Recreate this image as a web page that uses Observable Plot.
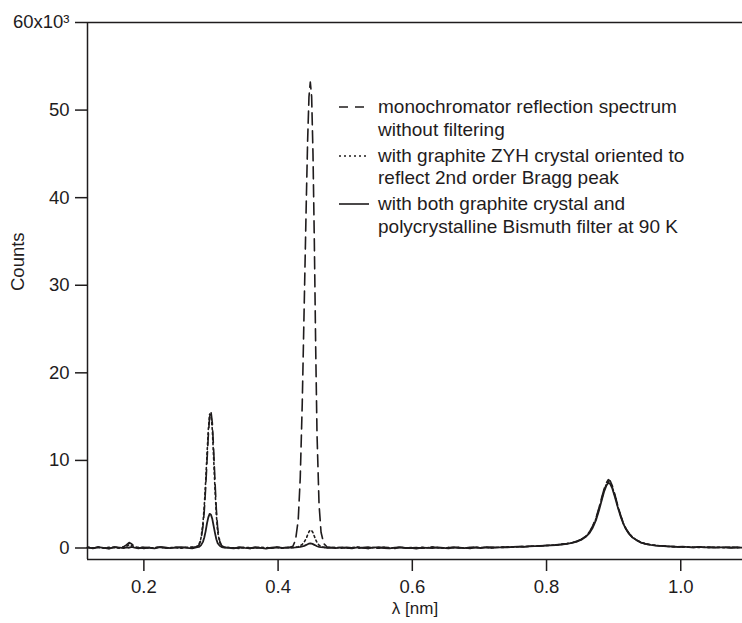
<!DOCTYPE html>
<html>
<head>
<meta charset="utf-8">
<script src="https://cdn.jsdelivr.net/npm/d3@7"></script>
<script src="https://cdn.jsdelivr.net/npm/@observablehq/plot@0.6"></script>
<style>
  html, body { margin: 0; padding: 0; background: #fff; overflow: hidden; }
  #wrap { position: relative; width: 742px; height: 623px; }
  #overlay { position: absolute; left: 0; top: 0; pointer-events: none; }
</style>
</head>
<body>
<div id="wrap"></div>
<script>
// wavelength grid (nm)
const lambda = [
  0.116,0.124,0.132,0.140,0.148,0.156,0.164,0.170,0.174,0.178,0.182,0.186,0.192,0.200,0.208,0.216,0.224,0.232,0.240,0.248,0.256,0.264,0.272,0.278,
  0.282,0.285,0.288,0.290,0.292,0.294,0.296,0.298,0.300,0.302,0.304,0.306,0.308,0.310,0.313,0.316,0.320,
  0.326,0.334,0.342,0.350,0.358,0.366,0.374,0.382,0.390,0.398,0.406,0.412,0.418,
  0.422,0.426,0.430,0.433,0.436,0.439,0.442,0.444,0.446,0.448,0.450,0.452,0.454,0.456,0.458,0.461,0.464,0.468,0.473,0.478,
  0.486,0.494,0.502,0.510,0.518,0.526,0.534,0.542,0.550,0.558,0.566,0.574,0.582,0.590,0.598,0.606,0.614,0.622,0.630,0.638,
  0.646,0.654,0.662,0.670,0.678,0.686,0.694,0.702,0.710,0.718,0.726,0.734,0.742,0.750,0.758,0.766,0.774,0.782,0.790,0.798,
  0.806,0.814,0.822,0.830,0.838,0.845,0.852,0.858,0.864,0.869,0.874,0.878,0.882,0.886,0.889,0.892,0.895,0.898,0.902,0.906,
  0.910,0.914,0.918,0.923,0.928,0.934,0.940,0.947,0.955,0.963,
  0.971,0.979,0.987,0.995,1.003,1.011,1.019,1.027,1.035,1.043,1.051,1.059,1.067,1.075,1.083,1.092
];

// monochromator reflection spectrum without filtering (dashed)
const countsMono = [
  80,-30,100,40,-50,120,60,150,350,620,450,200,60,-40,70,20,110,40,-20,80,30,90,40,150,
  300,900,2400,4200,6800,9800,12800,15000,15600,14300,11200,7600,4400,2200,800,250,80,
  40,-20,90,30,-40,70,10,60,-30,50,100,20,80,
  200,900,3200,8000,16500,28000,39500,46500,51500,53200,51500,45000,35000,23000,13000,5000,1800,500,120,60,
  50,-30,80,20,-40,60,110,10,-20,70,40,-50,90,30,0,60,-30,40,100,20,
  -10,50,80,0,40,-40,70,30,90,10,60,120,80,100,170,150,200,190,250,280,
  320,360,420,500,620,760,1000,1320,1850,2550,3500,4550,5700,6800,7450,7800,7650,7100,6050,4900,
  3850,2950,2250,1650,1200,900,640,480,360,290,
  230,210,150,140,120,110,60,130,70,80,50,90,60,40,80,30
];

// with graphite ZYH crystal (dotted)
const countsGraphite = [
  70,10,60,-20,90,30,-30,100,200,380,300,150,40,80,-10,50,100,0,60,30,-20,70,110,90,
  350,1100,2800,4800,7500,10600,13500,15300,15200,13500,10200,6700,3800,1800,650,200,60,
  60,10,-40,80,30,-20,90,40,0,70,-30,60,40,
  50,90,150,250,420,700,1100,1500,1850,2050,2000,1750,1350,950,620,330,160,80,40,70,
  30,70,-10,50,100,20,-40,60,10,80,-20,40,90,0,50,-30,70,20,110,40,
  -10,60,30,80,-20,50,100,40,70,20,90,60,130,110,140,180,170,230,240,270,
  310,350,410,490,600,750,980,1300,1800,2480,3400,4450,5550,6650,7250,7600,7450,6950,5950,4800,
  3780,2900,2230,1660,1230,910,660,500,370,300,
  240,190,160,150,110,130,90,70,100,50,80,60,30,90,40,70
];

// with graphite crystal and Bismuth filter at 90 K (solid)
const countsBoth = [
  60,-40,90,20,-60,110,40,-20,80,30,120,50,-30,70,10,-50,90,30,-20,60,100,20,-40,80,
  120,300,700,1200,1900,2800,3500,3900,3800,3300,2500,1700,1000,550,250,110,40,
  30,-50,80,10,-30,60,20,-60,40,90,0,50,70,
  40,60,90,120,180,250,350,430,490,520,500,440,360,280,200,140,90,60,20,50,
  -20,60,10,-40,70,20,-30,50,90,0,-50,40,80,-10,30,-60,50,20,-20,70,
  10,-40,60,30,-10,80,40,0,60,90,50,110,70,130,160,140,190,220,210,260,
  300,340,400,480,590,730,950,1250,1700,2350,3250,4250,5400,6500,7100,7450,7300,6800,5800,4700,
  3700,2850,2200,1600,1200,900,650,480,350,280,
  250,200,170,130,150,100,80,120,60,90,40,70,100,30,60,50
];

const xTicks = [0.2, 0.4, 0.6, 0.8, 1.0];
const yTicks = [0, 10000, 20000, 30000, 40000, 50000, 60000];
const xDomain = [0.116, 1.092];
const yDomain = [-1313, 60000];

const legendLabels = [
  ["monochromator reflection spectrum", "without filtering"],
  ["with graphite ZYH crystal oriented to", "reflect 2nd order Bragg peak"],
  ["with both graphite crystal and", "polycrystalline Bismuth filter at 90 K"]
];
const legendDash = ["9,7", "2,3", null];

const ink = "#1f1c1d";
const idx = d3.range(lambda.length);

const chart = Plot.plot({
  width: 742,
  height: 623,
  marginLeft: 87,
  marginRight: 0,
  marginTop: 22,
  marginBottom: 64,
  style: { fontFamily: "'Liberation Sans', Arial, sans-serif", fontSize: "18.5px", color: ink, background: "#fff" },
  x: { domain: xDomain },
  y: { domain: yDomain },
  marks: [
    Plot.axisY({ ticks: yTicks, tickSize: 12, tickPadding: 6, strokeWidth: 1.5, label: null,
      tickFormat: d => d === 60000 ? "60x10³" : String(d / 1000) }),
    Plot.axisX({ ticks: xTicks, tickSize: 12, tickPadding: 8, strokeWidth: 1.5, label: null,
      tickFormat: d3.format(".1f") }),
    Plot.ruleX([xDomain[0]], { stroke: ink, strokeWidth: 1.5 }),
    Plot.ruleY([yDomain[0], yDomain[1]], { stroke: ink, strokeWidth: 1.5 }),
    Plot.line(idx, { x: i => lambda[i], y: i => countsMono[i], stroke: ink, strokeWidth: 1.6, strokeDasharray: "12,6" }),
    Plot.line(idx, { x: i => lambda[i], y: i => countsGraphite[i], stroke: ink, strokeWidth: 1.6, strokeDasharray: "2,3" }),
    Plot.line(idx, { x: i => lambda[i], y: i => countsBoth[i], stroke: ink, strokeWidth: 1.8 }),
    Plot.text(["Counts"], { frameAnchor: "left", dx: -69, rotate: -90, fontSize: 18.5, fill: ink }),
    Plot.text(["λ [nm]"], { frameAnchor: "bottom", dy: 54, fontSize: 17, fill: ink })
  ]
});

const wrap = document.getElementById("wrap");
wrap.appendChild(chart);

// legend overlay
const ov = d3.select(wrap).append("svg").attr("id", "overlay").attr("width", 742).attr("height", 623);
const rowCenters = [[107, 130], [156, 178], [204, 227]];
legendLabels.forEach((lines, k) => {
  const yc = rowCenters[k][0];
  const ln = ov.append("line").attr("x1", 339).attr("x2", 369).attr("y1", yc).attr("y2", yc)
    .attr("stroke", ink).attr("stroke-width", 1.6);
  if (legendDash[k]) ln.attr("stroke-dasharray", legendDash[k]);
  lines.forEach((t, j) => {
    ov.append("text").attr("x", 378).attr("y", rowCenters[k][j] + 6)
      .attr("font-family", "'Liberation Sans', Arial, sans-serif").attr("font-size", 19)
      .attr("fill", ink).text(t);
  });
});
</script>
</body>
</html>
